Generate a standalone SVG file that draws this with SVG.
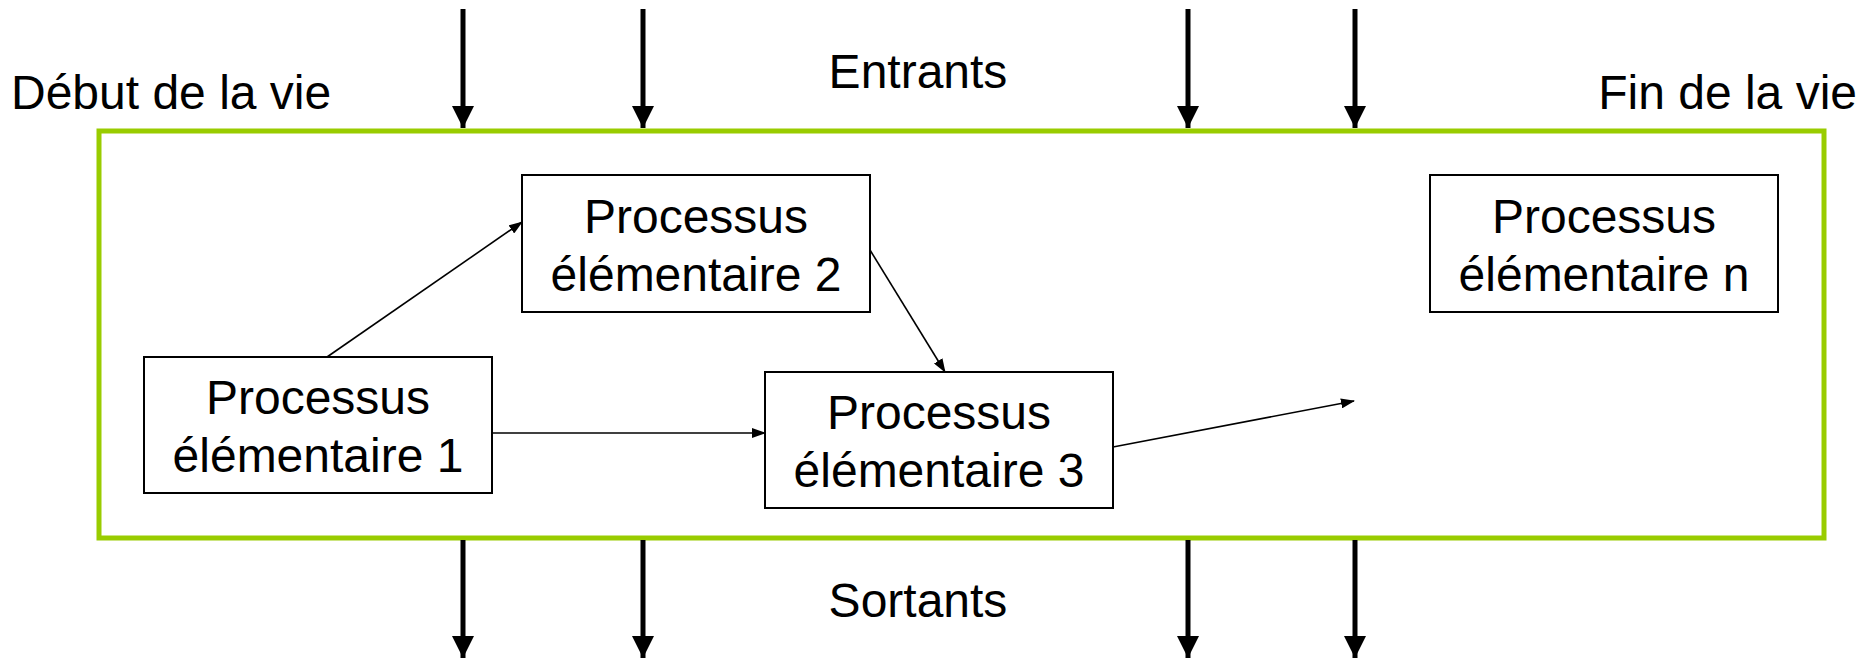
<svg xmlns="http://www.w3.org/2000/svg" width="1874" height="660" viewBox="0 0 1874 660">
  <defs>
    <marker id="thin" markerWidth="14" markerHeight="10" refX="13" refY="5" orient="auto" markerUnits="userSpaceOnUse">
      <path d="M0,0 L14,5 L0,10 Z" fill="#000"/>
    </marker>
    <marker id="thick" markerWidth="22" markerHeight="22" refX="22" refY="11" orient="auto" markerUnits="userSpaceOnUse">
      <path d="M0,0 L22,11 L0,22 Z" fill="#000"/>
    </marker>
  </defs>
  <style>
    text { font-family: "Liberation Sans", Arial, sans-serif; font-size: 48px; fill: #000; }
    .box { fill: #fff; stroke: #000; stroke-width: 2; }
    .frame { fill: none; stroke: #99cc00; stroke-width: 5; }
    .flow { stroke: #000; stroke-width: 5; fill: none; marker-end: url(#thick); }
    .link { stroke: #000; stroke-width: 1.6; fill: none; marker-end: url(#thin); }
    .c { text-anchor: middle; }
  </style>
  <rect width="1874" height="660" fill="#fff"/>

  <!-- life-cycle frame -->
  <rect class="frame" x="99" y="131" width="1725" height="407"/>

  <!-- labels -->
  <text x="11" y="109">Début de la vie</text>
  <text x="1857" y="109" text-anchor="end">Fin de la vie</text>
  <text x="918" y="88" class="c">Entrants</text>
  <text x="918" y="617" class="c">Sortants</text>

  <!-- inputs and outputs -->
  <g id="flows">
    <line class="flow" x1="463" y1="9" x2="463" y2="128"/>
    <line class="flow" x1="643" y1="9" x2="643" y2="128"/>
    <line class="flow" x1="1188" y1="9" x2="1188" y2="128"/>
    <line class="flow" x1="1355" y1="9" x2="1355" y2="128"/>
    <line class="flow" x1="463" y1="540" x2="463" y2="658"/>
    <line class="flow" x1="643" y1="540" x2="643" y2="658"/>
    <line class="flow" x1="1188" y1="540" x2="1188" y2="658"/>
    <line class="flow" x1="1355" y1="540" x2="1355" y2="658"/>
  </g>

  <!-- links between processes -->
  <g id="connectors">
    <line class="link" x1="327" y1="357" x2="522" y2="222"/>
    <line class="link" x1="492" y1="433" x2="765" y2="433"/>
    <line class="link" x1="870" y1="250" x2="945" y2="372"/>
    <line class="link" x1="1113" y1="447" x2="1354" y2="401"/>
  </g>

  <g id="p1">
    <rect class="box" x="144" y="357" width="348" height="136"/>
    <text x="318" y="414" class="c">Processus</text>
    <text x="318" y="472" class="c">élémentaire 1</text>
  </g>
  <g id="p2">
    <rect class="box" x="522" y="175" width="348" height="137"/>
    <text x="696" y="233" class="c">Processus</text>
    <text x="696" y="291" class="c">élémentaire 2</text>
  </g>
  <g id="p3">
    <rect class="box" x="765" y="372" width="348" height="136"/>
    <text x="939" y="429" class="c">Processus</text>
    <text x="939" y="487" class="c">élémentaire 3</text>
  </g>
  <g id="pn">
    <rect class="box" x="1430" y="175" width="348" height="137"/>
    <text x="1604" y="233" class="c">Processus</text>
    <text x="1604" y="291" class="c">élémentaire n</text>
  </g>
</svg>
